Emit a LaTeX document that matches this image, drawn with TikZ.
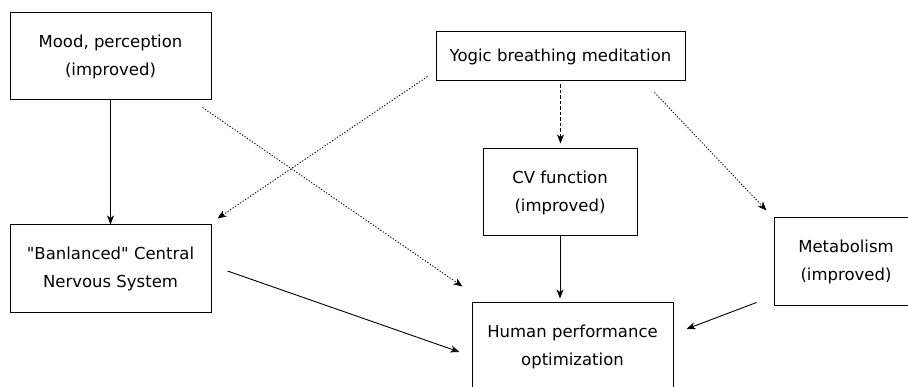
\documentclass[tikz,border=0pt]{standalone}
\usepackage{fontspec}
\setmainfont{DejaVu Sans}
\usepackage{tikz}
\usetikzlibrary{positioning,calc,arrows.meta}
\tikzset{ %
  ,>={Stealth[length=9pt, width=7pt, inset=2.5pt]}
  ,every node/.style={font=\fontsize{16.5}{28}\selectfont}
  ,box/.style={draw, rectangle, align=center, inner sep=0, line width=1pt, node distance=124pt}
  ,link/.style={line width=0.9pt}
  ,dotlink/.style={line width=0.9pt, dash pattern=on 1.2pt off 1.8pt}
  ,dashlink/.style={line width=0.9pt, dash pattern=on 3.5pt off 2pt}
}

\begin{document}
\begin{tikzpicture}[x=1pt, y=-1pt]
      \useasboundingbox (0,0) rectangle (908,387);
      \draw 
      node[box, minimum width=201pt, minimum height=87pt] at (110.5,56.5) (mood) {Mood, perception\\(improved)}
      node[box, minimum width=201pt, minimum height=88pt, below=of mood] (cns) {\textquotedbl Banlanced\textquotedbl{} Central\\Nervous System}
      node[box, minimum width=249pt, minimum height=49pt] at (560.5,56.5) (yogic) {Yogic breathing meditation}
      node[box, minimum width=154pt, minimum height=87pt] at (560,192.5) (cv) {CV function\\(improved)}
      node[box, minimum width=144pt, minimum height=88pt] at (846,262) (metab) {Metabolism\\(improved)}
      node[box, minimum width=201pt, minimum height=87pt] at (572.5,346.5) (human) {Human performance\\optimization};
      \draw [link,->] (mood) -- (cns);
      \draw [link,->] ($(cns.east)+(16,2)$) -- ($(human.west)+(-12,5.5)$);
      \draw [link,->,shorten >=4pt] (cv.south) -- (cv.south |- human.north);
      \draw [link,->] ($(metab.south west)+(-17,-4)$) -- ($(human.east)+(13,-17.5)$);
      \draw [dotlink,->] ($(mood.south east)+(-9,7)$) -- ($(human.north west)+(-9,-16)$);
      \draw [dotlink,->] ($(yogic.south west)+(-8,-5)$) -- ($(cns.north east)+(6,-6)$);
      \draw [dotlink,->] ($(yogic.south east)+(-31,11)$) -- ($(metab.north west)+(-7,-7)$);
      \draw [dashlink,->,shorten >=5pt] ($(yogic.south)+(0,3)$) -- (yogic.south |- cv.north);
    \end{tikzpicture}
\end{document}
